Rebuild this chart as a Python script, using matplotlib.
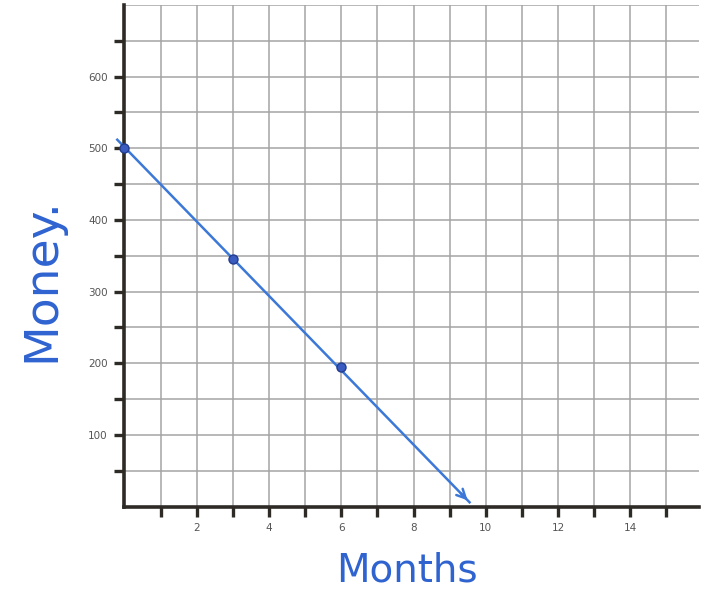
import matplotlib
matplotlib.use("Agg")
import matplotlib.pyplot as plt

# data
months = [0, 3, 6]
money = [500, 345, 195]
trend_x = [-0.2, 9.55]
trend_y = [512, 6]
x_ticks = list(range(1, 16))
x_labels = [str(t) if t % 2 == 0 else "" for t in x_ticks]
y_ticks = list(range(50, 701, 50))
y_labels = [str(t) if (t % 100 == 0 and 100 <= t <= 600) else "" for t in y_ticks]

fig = plt.figure(figsize=(7.03, 5.96), dpi=100)
ax = fig.add_axes([124.5 / 703, 1 - 506.6 / 596, (699 - 124.5) / 703, (506.6 - 5) / 596])
ax.set_xlim(0, 15.9)
ax.set_ylim(0, 700)

ax.set_xticks(x_ticks)
ax.set_xticklabels(x_labels)
ax.set_yticks(y_ticks)
ax.set_yticklabels(y_labels)
ax.grid(True, color="#a4a4a4", linewidth=1.1)
ax.set_axisbelow(True)

for s in ["right", "top"]:
    ax.spines[s].set_visible(False)
for s in ["left", "bottom"]:
    ax.spines[s].set_linewidth(2.6)
    ax.spines[s].set_color("#2e2a26")
ax.tick_params(axis="both", length=7, width=2.4, color="#2e2a26",
               labelsize=7.5, labelcolor="#555555", pad=5)
ax.yaxis.get_ticklines()[-2].set_visible(False)

line_color = "#3c78d8"
ax.plot(trend_x, trend_y, color=line_color, linewidth=1.8, clip_on=False, zorder=3)
ax.annotate("", xy=(trend_x[1], trend_y[1]),
            xytext=(trend_x[0] + (trend_x[1] - trend_x[0]) * 0.97,
                    trend_y[0] + (trend_y[1] - trend_y[0]) * 0.97),
            arrowprops=dict(arrowstyle="->", color=line_color, lw=1.8,
                            mutation_scale=16),
            annotation_clip=False, zorder=3)
ax.plot(months, money, "o", markersize=6.5, clip_on=False,
        zorder=4, markerfacecolor="#3a5cc0", markeredgecolor="#223c90")

fig.text(42 / 703, 1 - 280 / 596, "Money.", rotation=90, color="#2f63d0",
         fontsize=34, ha="center", va="center")
fig.text(407 / 703, 1 - 570 / 596, "Months", color="#2f63d0",
         fontsize=28, ha="center", va="center")

fig.savefig("out.png", dpi=100)
